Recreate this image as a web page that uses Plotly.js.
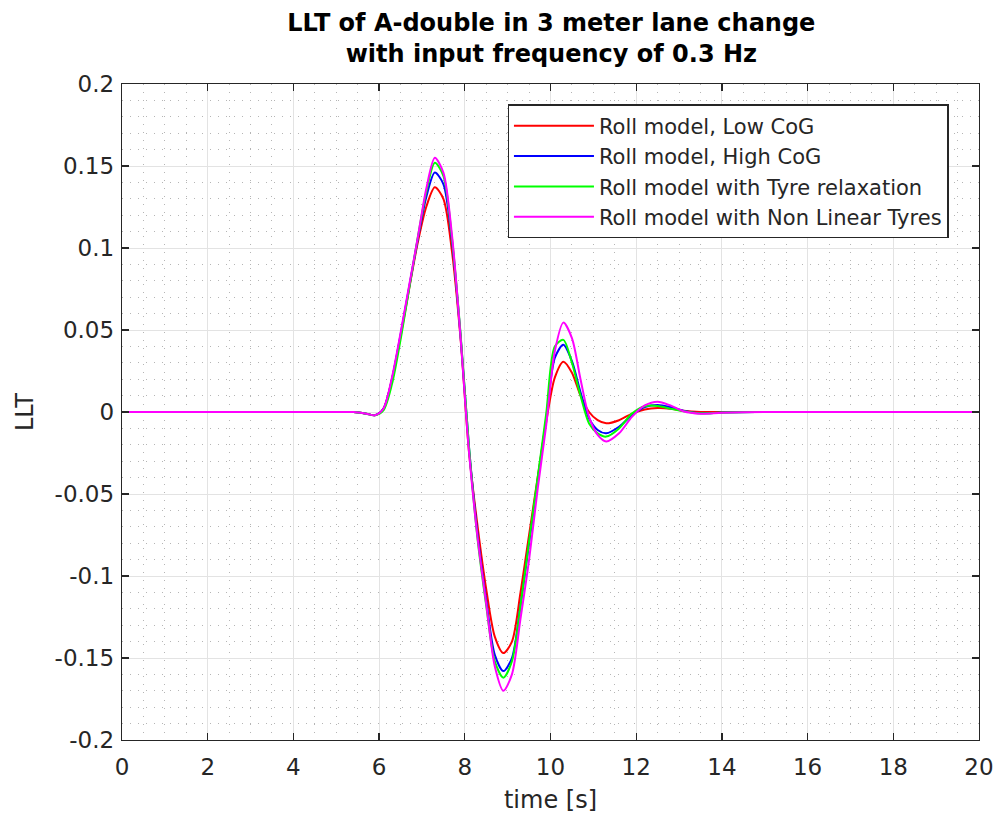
<!DOCTYPE html>
<html>
<head>
<meta charset="utf-8">
<script src="https://cdn.plot.ly/plotly-3.0.1.min.js"></script>
<style>html,body{margin:0;padding:0;background:#fff;}#chart{width:997px;height:825px;}</style>
</head>
<body>
<div id="chart"></div>
<script>
const time = [0, 5.0, 5.4, 5.7, 5.9, 6.1, 6.3, 6.5, 6.7, 6.9, 7.1, 7.3, 7.5, 7.7, 7.9, 8.1, 8.3, 8.5, 8.7, 8.9, 9.1, 9.3, 9.5, 9.7, 9.9, 10.1, 10.3, 10.5, 10.7, 10.9, 11.1, 11.3, 11.6, 11.9, 12.2, 12.5, 12.8, 13.1, 13.5, 14, 15, 20];

const lowCoG = [0, 0, 0, -0.001, -0.002, 0.002, 0.020, 0.046, 0.075, 0.103, 0.125, 0.137, 0.130, 0.098, 0.045, -0.025, -0.070, -0.108, -0.137, -0.147, -0.140, -0.110, -0.075, -0.040, -0.006, 0.021, 0.0307, 0.024, 0.010, 0.000, -0.005, -0.0069, -0.005, -0.001, 0.0015, 0.0024, 0.002, 0.0008, 0, 0, 0, 0];

const highCoG = [0, 0, 0, -0.001, -0.002, 0.002, 0.020, 0.047, 0.076, 0.105, 0.131, 0.146, 0.139, 0.104, 0.047, -0.022, -0.075, -0.115, -0.148, -0.158, -0.150, -0.118, -0.080, -0.042, -0.004, 0.033, 0.041, 0.031, 0.012, -0.004, -0.011, -0.013, -0.009, -0.002, 0.003, 0.0043, 0.003, 0.0008, -0.0008, -0.0003, 0, 0];

const tyreRelax = [0, 0, 0, -0.001, -0.002, 0.001, 0.017, 0.044, 0.075, 0.106, 0.134, 0.152, 0.144, 0.106, 0.048, -0.022, -0.078, -0.118, -0.152, -0.162, -0.152, -0.118, -0.079, -0.040, -0.001, 0.040, 0.044, 0.030, 0.010, -0.007, -0.013, -0.015, -0.010, -0.001, 0.0035, 0.0037, 0.002, 0.0005, -0.0008, -0.0003, 0, 0];

const nonLinear = [0, 0, 0, -0.001, -0.002, 0.002, 0.021, 0.048, 0.077, 0.106, 0.136, 0.155, 0.146, 0.108, 0.046, -0.025, -0.077, -0.117, -0.155, -0.170, -0.160, -0.126, -0.090, -0.047, -0.008, 0.037, 0.0545, 0.045, 0.020, -0.003, -0.014, -0.018, -0.013, -0.003, 0.004, 0.0063, 0.004, 0.0005, -0.001, -0.0005, 0, 0];

const seriesNames = ["Roll model, Low CoG", "Roll model, High CoG", "Roll model with Tyre relaxation", "Roll model with Non Linear Tyres"];
const seriesValues = [lowCoG, highCoG, tyreRelax, nonLinear];
const seriesColors = ["#ff0000", "#0000ff", "#00ff00", "#ff00ff"];

const xTicks = [0, 2, 4, 6, 8, 10, 12, 14, 16, 18, 20];
const yTicks = [-0.2, -0.15, -0.1, -0.05, 0, 0.05, 0.1, 0.15, 0.2];
const yTickText = ["-0.2", "-0.15", "-0.1", "-0.05", "0", "0.05", "0.1", "0.15", "0.2"];

const traces = seriesValues.map((v, i) => ({
  x: time, y: v, type: 'scatter', mode: 'lines', name: seriesNames[i],
  line: {color: seriesColors[i], width: 2, shape: 'spline', smoothing: 0.8}
}));

const font = "DejaVu Sans, Verdana, sans-serif";
const axisCommon = {
  showline: true, mirror: 'ticks', linecolor: '#262626', linewidth: 1.3,
  ticks: 'inside', ticklen: 7, tickcolor: '#262626', tickwidth: 1.3,
  showgrid: true, gridcolor: '#e3e3e3', gridwidth: 1, zeroline: false,
  tickfont: {family: font, size: 23, color: '#262626'},
};

const layout = {
  width: 997, height: 825,
  margin: {l: 122, r: 18, t: 84, b: 85},
  paper_bgcolor: '#ffffff', plot_bgcolor: '#ffffff',
  title: {
    text: '<b>LLT of A-double in 3 meter lane change<br>with input frequency of 0.3 Hz</b>',
    font: {family: font, size: 24, color: '#000000', lineposition: 'none'},
    x: 0.553, xanchor: 'center', y: 0.963, yanchor: 'top', yref: 'container'
  },
  xaxis: Object.assign({}, axisCommon, {
    range: [0, 20], tickvals: xTicks, ticktext: xTicks.map(String),
    ticklabelstandoff: 6,
    title: {text: 'time [s]', font: {family: font, size: 24, color: '#262626'}, standoff: 12},
    minor: {dtick: 0.5, showgrid: true, griddash: '1px,7px', gridcolor: '#b5b5b5', gridwidth: 1, ticks: ''}
  }),
  yaxis: Object.assign({}, axisCommon, {
    range: [-0.2, 0.2], tickvals: yTicks, ticktext: yTickText,
    ticklabelstandoff: 2,
    title: {text: 'LLT', font: {family: font, size: 24, color: '#262626'}, standoff: 14},
    minor: {dtick: 0.01, showgrid: true, griddash: '1px,7px', gridcolor: '#b5b5b5', gridwidth: 1, ticks: ''}
  }),
  showlegend: true,
  legend: {
    x: 0.45, y: 0.969, xanchor: 'left', yanchor: 'top',
    bgcolor: '#ffffff', bordercolor: '#262626', borderwidth: 1.3,
    font: {family: font, size: 21, color: '#262626'},
    itemwidth: 80, tracegroupgap: 0
  }
};

Plotly.newPlot('chart', traces, layout, {displayModeBar: false, staticPlot: true});
</script>
</body>
</html>
